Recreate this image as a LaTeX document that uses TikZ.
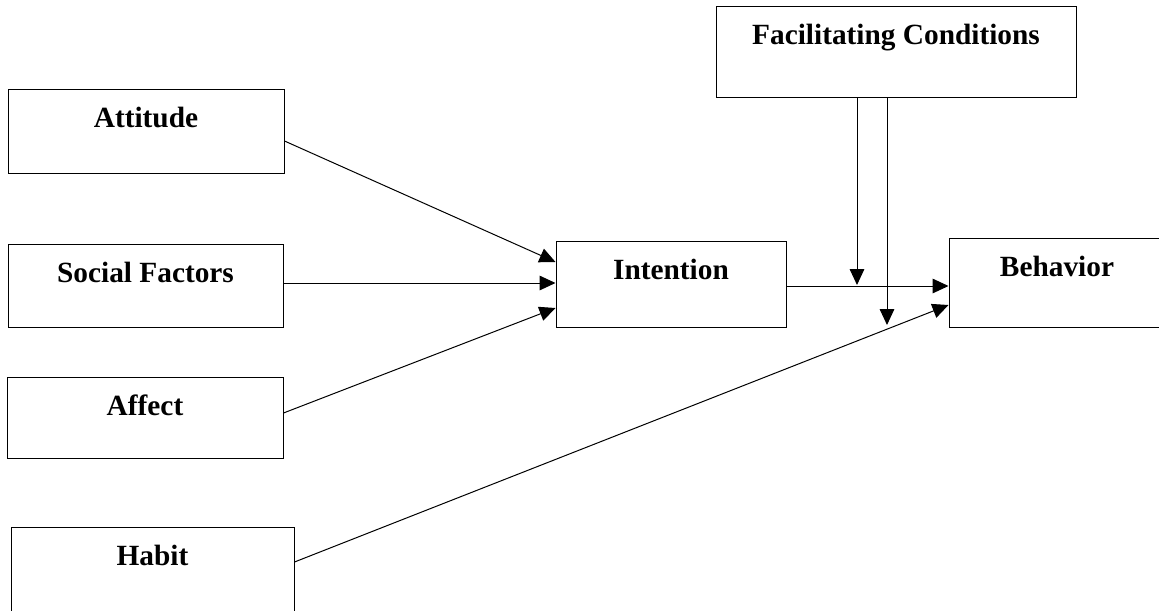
\documentclass[tikz,border=0pt]{standalone}
\usepackage{fontspec}
\setmainfont{Liberation Serif}
\usetikzlibrary{arrows.meta}

\begin{document}
\begin{tikzpicture}[x=0.75pt,y=-0.75pt,
        box/.style={draw,line width=0.75pt,inner sep=0pt,text height=28.5pt,
            font=\bfseries\fontsize{22}{26}\selectfont},
        arr/.style={line width=0.75pt,-{Triangle[length=12pt,width=11pt]}}]
        \useasboundingbox (0,0) rectangle (1159,610);
        \clip (0,0) rectangle (1159,610);
        \node[box,minimum width=207pt,text depth=34.5pt] (att) at (146,131) {Attitude};
        \node[box,minimum width=206.25pt,text depth=33.75pt] (soc) at (145.5,285.5) {Social Factors};
        \node[box,minimum width=207pt,text depth=32.25pt] (aff) at (145,417.5) {Affect};
        \node[box,minimum width=212.25pt,text depth=36pt] (hab) at (152.5,570) {Habit};
        \node[box,minimum width=172.5pt,text depth=36pt] (int) at (671,284) {Intention};
        \node[box,minimum width=162pt,text depth=38.25pt] (beh) at (1057,282.5) {Behavior};
        \node[box,minimum width=270pt,text depth=39pt] (fc) at (896,52) {Facilitating Conditions};
        \coordinate (m1) at (857,285);
        \coordinate (m2) at (887,325);
        \draw[arr] ([shift={(0,10)}]att.east) -- ([shift={(0,-22)}]int.west);
        \draw[arr] ([shift={(0,-2.5)}]soc.east) -- ([shift={(0,-1)}]int.west);
        \draw[arr] ([shift={(0,-4.5)}]aff.east) -- ([shift={(0,24)}]int.west);
        \draw[arr] ([shift={(0,2)}]int.east) -- ([shift={(0,3.5)}]beh.west);
        \draw[arr] ([shift={(0,-8)}]hab.east) -- ([shift={(0,22.5)}]beh.west);
        \draw[arr] ([shift={(-39,0)}]fc.south) -- (m1);
        \draw[arr] ([shift={(-9,0)}]fc.south) -- (m2);
    \end{tikzpicture}
\end{document}
